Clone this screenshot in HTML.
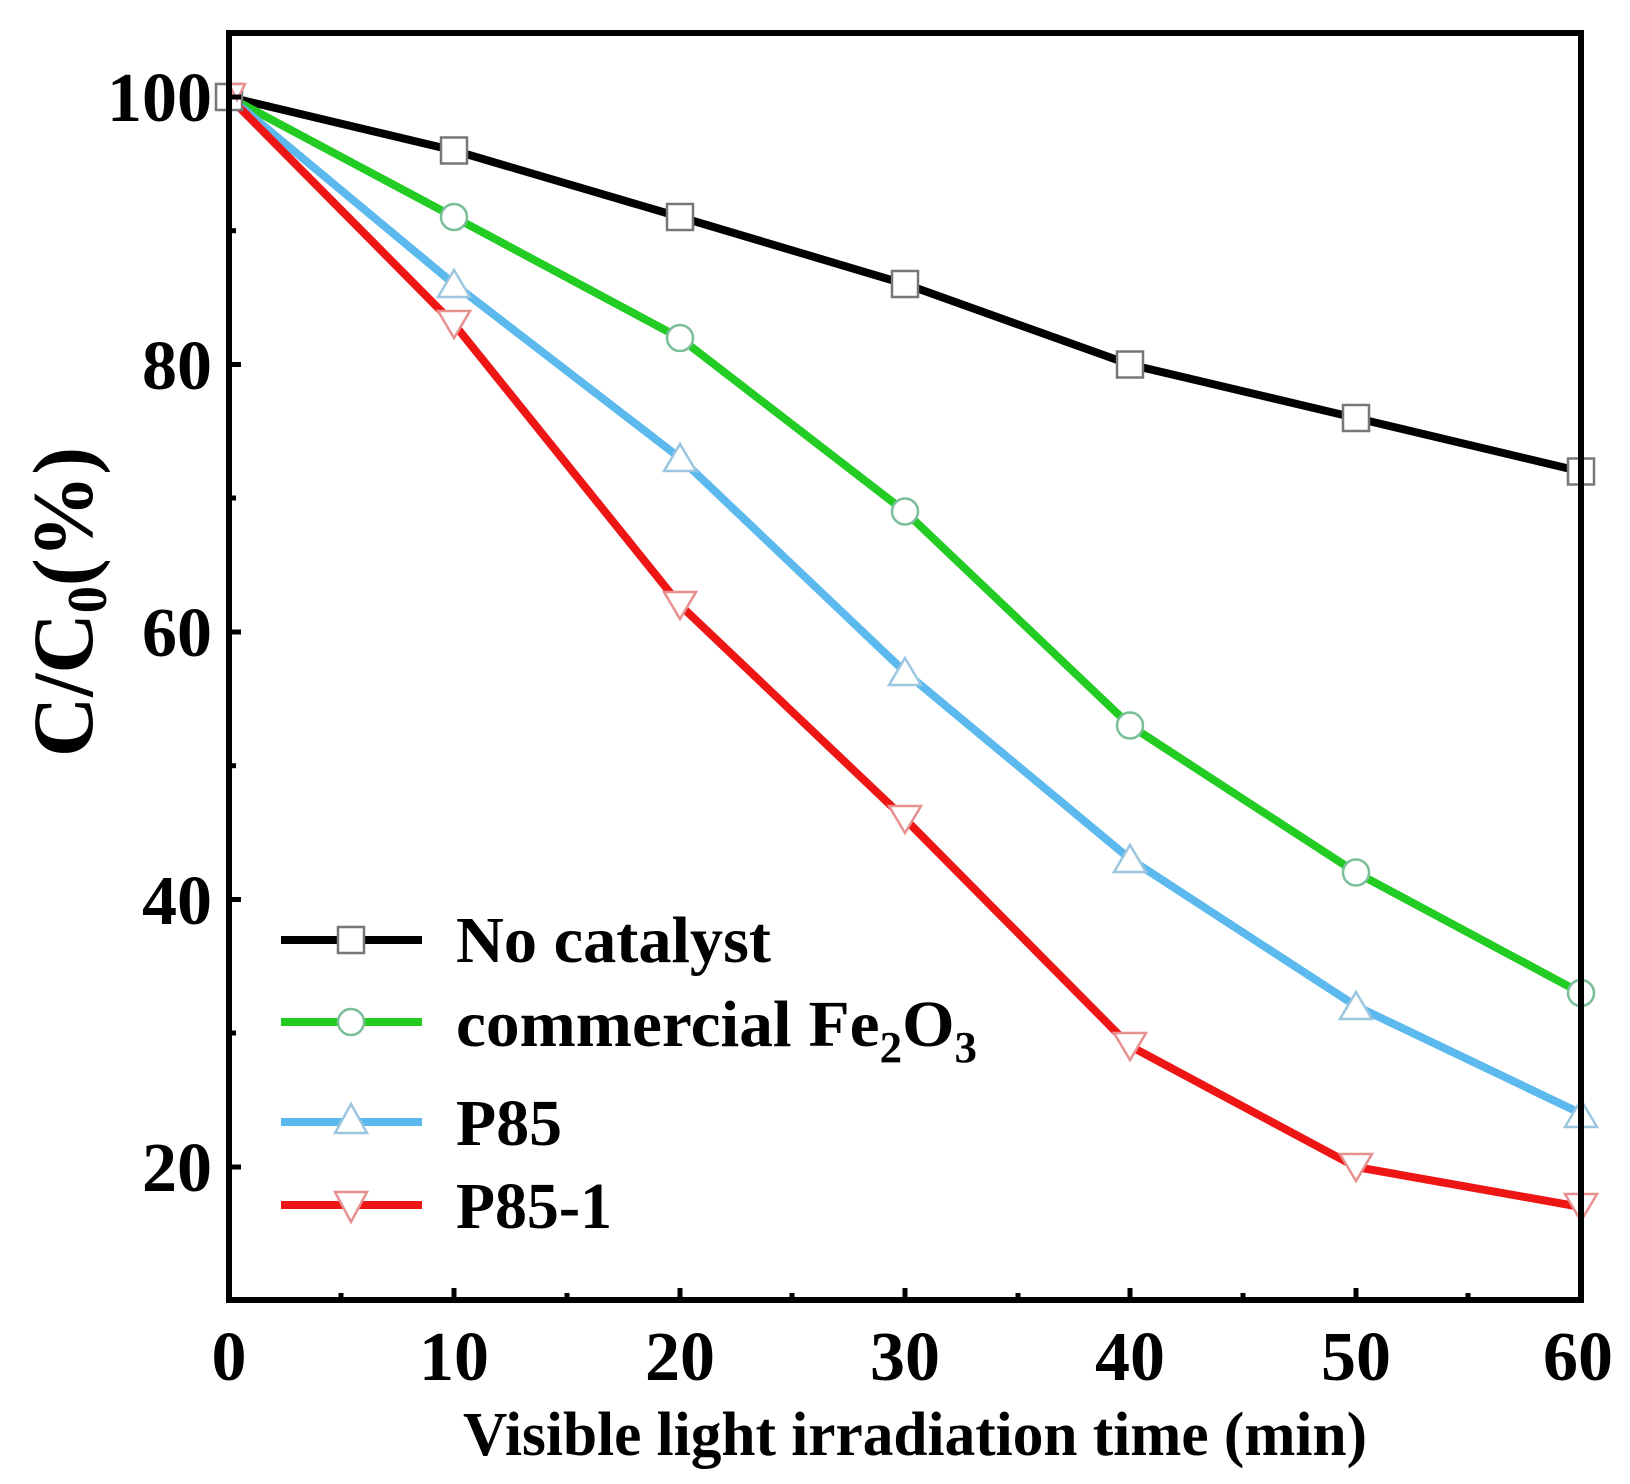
<!DOCTYPE html>
<html><head><meta charset="utf-8"><style>
html,body{margin:0;padding:0;background:#fff}
svg{display:block}
text{font-family:"Liberation Serif",serif;font-weight:bold;fill:#000}
</style></head><body>
<svg width="1630" height="1484" viewBox="0 0 1630 1484" xmlns="http://www.w3.org/2000/svg">
<g fill="none" stroke-width="8" stroke-linejoin="round" stroke-linecap="round">
<polyline stroke="#000" points="229,97 454,150.5 680,217 905,284 1130,364.5 1356,418 1581,471.5"/>
<polyline stroke="#22cc22" points="229,97 454,217 680,338 905,511.5 1130,725.5 1356,872.5 1581,993"/>
<polyline stroke="#5cb9ee" points="229,97 454,284 680,458 905,672 1130,859 1356,1006 1581,1113.5"/>
<polyline stroke="#ee1515" points="229,97 454,324 680,605 905,819 1130,1046 1356,1167 1581,1207"/>
</g>
<g fill="#fff" stroke-width="2.5">
<g stroke="#777">
<rect x="216" y="84" width="26" height="26"/><rect x="441" y="137.5" width="26" height="26"/><rect x="667" y="204" width="26" height="26"/><rect x="892" y="271" width="26" height="26"/><rect x="1117" y="351.5" width="26" height="26"/><rect x="1343" y="405" width="26" height="26"/><rect x="1568" y="458.5" width="26" height="26"/>
</g>
<g stroke="#7abf9a">
<circle cx="454" cy="217" r="13"/><circle cx="680" cy="338" r="13"/><circle cx="905" cy="511.5" r="13"/><circle cx="1130" cy="725.5" r="13"/><circle cx="1356" cy="872.5" r="13"/><circle cx="1581" cy="993" r="13"/>
</g>
<g stroke="#9cc6df">
<polygon points="454,270 470,297 438,297"/><polygon points="680,444 696,471 664,471"/><polygon points="905,658 921,685 889,685"/><polygon points="1130,845 1146,872 1114,872"/><polygon points="1356,992 1372,1019 1340,1019"/><polygon points="1581,1100 1597,1127 1565,1127"/>
</g>
<g stroke="#e79090">
<polygon points="229,84 245,84 237,100"/>
<polygon points="438,311 470,311 454,338"/><polygon points="664,592 696,592 680,619"/><polygon points="889,806 921,806 905,833"/><polygon points="1114,1033 1146,1033 1130,1060"/><polygon points="1340,1154 1372,1154 1356,1181"/><polygon points="1565,1194 1597,1194 1581,1221"/>
</g>
</g>
<rect x="229" y="33" width="1352" height="1267" fill="none" stroke="#000" stroke-width="6"/>
<g stroke="#000" stroke-width="5">
<line x1="454" y1="1300" x2="454" y2="1288"/><line x1="680" y1="1300" x2="680" y2="1288"/><line x1="905" y1="1300" x2="905" y2="1288"/><line x1="1130" y1="1300" x2="1130" y2="1288"/><line x1="1356" y1="1300" x2="1356" y2="1288"/>
<line x1="341" y1="1300" x2="341" y2="1293"/><line x1="567" y1="1300" x2="567" y2="1293"/><line x1="792" y1="1300" x2="792" y2="1293"/><line x1="1018" y1="1300" x2="1018" y2="1293"/><line x1="1243" y1="1300" x2="1243" y2="1293"/><line x1="1468" y1="1300" x2="1468" y2="1293"/>
<line x1="229" y1="97" x2="241" y2="97"/><line x1="229" y1="364.5" x2="241" y2="364.5"/><line x1="229" y1="632" x2="241" y2="632"/><line x1="229" y1="899.5" x2="241" y2="899.5"/><line x1="229" y1="1167" x2="241" y2="1167"/>
<line x1="229" y1="230.7" x2="236" y2="230.7"/><line x1="229" y1="498" x2="236" y2="498"/><line x1="229" y1="765.7" x2="236" y2="765.7"/><line x1="229" y1="1033" x2="236" y2="1033"/>
</g>
<g font-size="70" text-anchor="end">
<text x="212" y="121">100</text><text x="212" y="389">80</text><text x="212" y="656">60</text><text x="212" y="924">40</text><text x="212" y="1191">20</text>
</g>
<g font-size="70" text-anchor="middle">
<text x="229" y="1380">0</text><text x="454" y="1380">10</text><text x="680" y="1380">20</text><text x="905" y="1380">30</text><text x="1130" y="1380">40</text><text x="1356" y="1380">50</text><text x="1578" y="1380">60</text>
</g>
<text x="463" y="1455" font-size="62" textLength="904" lengthAdjust="spacingAndGlyphs">Visible light irradiation time (min)</text>
<text transform="translate(92,757) rotate(-90)" font-size="86" textLength="310" lengthAdjust="spacingAndGlyphs">C/C<tspan font-size="56" dy="14">0</tspan><tspan dy="-14">(%)</tspan></text>
<g stroke-width="8">
<line x1="281" y1="940" x2="422" y2="940" stroke="#000"/>
<line x1="281" y1="1022" x2="422" y2="1022" stroke="#22cc22"/>
<line x1="281" y1="1122" x2="422" y2="1122" stroke="#5cb9ee"/>
<line x1="281" y1="1205" x2="422" y2="1205" stroke="#ee1515"/>
</g>
<g fill="#fff" stroke-width="2.5">
<rect x="338" y="927" width="26" height="26" stroke="#777"/>
<circle cx="351" cy="1022" r="13" stroke="#7abf9a"/>
<polygon points="351,1104 367,1133 335,1133" stroke="#9cc6df"/>
<polygon points="335,1192 367,1192 351,1222" stroke="#e79090"/>
</g>
<g font-size="66">
<text x="456" y="962" textLength="315" lengthAdjust="spacingAndGlyphs">No catalyst</text>
<text x="456" y="1046" textLength="521" lengthAdjust="spacingAndGlyphs">commercial Fe<tspan font-size="44" dy="16">2</tspan><tspan dy="-16">O</tspan><tspan font-size="44" dy="16">3</tspan></text>
<text x="456" y="1145" textLength="106" lengthAdjust="spacingAndGlyphs">P85</text>
<text x="456" y="1228" textLength="156" lengthAdjust="spacingAndGlyphs">P85-1</text>
</g>
</svg>
</body></html>
